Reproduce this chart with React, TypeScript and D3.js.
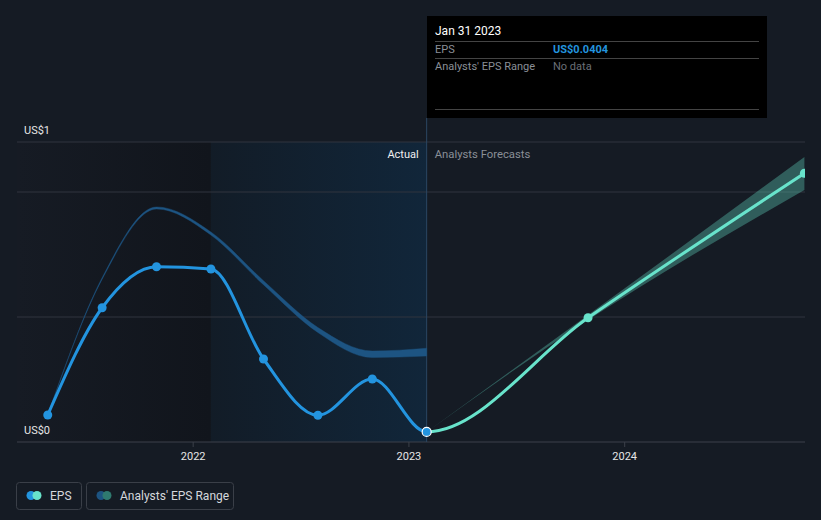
import React from "react";
import * as d3 from "d3";

// ---- data ----
const epsDates = ["2021-04-30", "2021-07-31", "2021-10-31", "2022-01-31", "2022-04-30", "2022-07-31", "2022-10-31", "2023-01-31", "2023-10-31", "2024-10-31"];
const epsValues = [0.108, 0.537, 0.701, 0.692, 0.332, 0.107, 0.252, 0.0404, 0.497, 1.075];
const actualCount = 8;

const pastRangeDates = ["2021-04-30", "2021-07-31", "2021-10-31", "2022-01-31", "2022-04-30", "2022-07-31", "2022-10-31", "2023-01-31"];
const pastRangeLow = [0.108, 0.651, 0.932, 0.828, 0.629, 0.438, 0.338, 0.344];
const pastRangeHigh = [0.108, 0.657, 0.940, 0.840, 0.645, 0.458, 0.364, 0.375];

const fcRangeDates = ["2023-01-31", "2023-10-31", "2024-10-31"];
const fcRangeLow = [0.0404, 0.488, 1.008];
const fcRangeHigh = [0.0404, 0.508, 1.14];

const xTickYears = ["2022", "2023", "2024"];
const yLabels = ["US$0", "US$1"];
const gridValues = [0.5, 1.0, 1.2];

const W = 821, H = 520;
const L = 17, R = 805, T = 142, B = 442;

const parse = d3.timeParse("%Y-%m-%d");

export default function App() {
  const x = d3.scaleTime().domain([parse("2021-03-09")!, parse("2024-11-01")!]).range([L, R]);
  const y = d3.scaleLinear().domain([0, 1.2]).range([B, T]);

  const eps = epsDates.map((d, i) => ({ d: parse(d)!, v: epsValues[i] }));
  const pastRange = pastRangeDates.map((d, i) => ({ d: parse(d)!, lo: pastRangeLow[i], hi: pastRangeHigh[i] }));
  const fcRange = fcRangeDates.map((d, i) => ({ d: parse(d)!, lo: fcRangeLow[i], hi: fcRangeHigh[i] }));

  const lineGen = d3.line<{ d: Date; v: number }>().x(p => x(p.d)).y(p => y(p.v)).curve(d3.curveMonotoneX);
  const areaGen = d3.area<{ d: Date; lo: number; hi: number }>().x(p => x(p.d)).y0(p => y(p.lo)).y1(p => y(p.hi)).curve(d3.curveMonotoneX);

  const nowDate = parse("2023-01-31")!;
  const nowX = x(nowDate);
  const yearAgoX = x(parse("2022-01-31")!);

  const font = "Roboto, 'Noto Sans', sans-serif";
  const blue = "#2394df";
  const teal = "#68e3cb";

  return (
    <svg width={W} height={H} style={{ position: "absolute", left: 0, top: 0, display: "block" }} fontFamily={font}>
      <defs>
        <linearGradient id="leftGrad" x1="0" x2="1" y1="0" y2="0">
          <stop offset="0" stopColor="#161b24" />
          <stop offset="1" stopColor="#11151c" />
        </linearGradient>
        <linearGradient id="blueGrad" x1="0" x2="1" y1="0" y2="0">
          <stop offset="0" stopColor="#121c27" />
          <stop offset="1" stopColor="#11263a" />
        </linearGradient>
        <clipPath id="plotClip">
          <rect x={L} y={0} width={R - L} height={H} />
        </clipPath>
        <clipPath id="pastClip">
          <rect x={0} y={0} width={nowX} height={H} />
        </clipPath>
        <clipPath id="futureClip">
          <rect x={nowX} y={0} width={R - nowX} height={H} />
        </clipPath>
      </defs>
      <rect x={0} y={0} width={W} height={H} fill="#151b24" />

      {/* background regions */}
      <rect x={L} y={T} width={yearAgoX - L} height={B - T} fill="url(#leftGrad)" />
      <rect x={yearAgoX} y={T} width={nowX - yearAgoX} height={B - T} fill="url(#blueGrad)" />

      {/* grid */}
      {gridValues.map(v => (
        <line key={v} x1={L} x2={R} y1={y(v)} y2={y(v)} stroke="#30353e" strokeWidth={1} />
      ))}

      {/* x axis */}
      <line x1={L} x2={R} y1={B} y2={B} stroke="#3c414a" strokeWidth={1} />
      {xTickYears.map(t => {
        const tx = x(parse(`${t}-01-01`)!);
        return (
          <g key={t}>
            <line x1={tx} x2={tx} y1={B} y2={B + 5} stroke="#3c414a" />
            <text x={tx} y={460} textAnchor="middle" fontSize={11} fill="#e6e6e6">{t}</text>
          </g>
        );
      })}

      {/* now line */}
      <line x1={nowX} x2={nowX} y1={118} y2={B} stroke="#2b4763" strokeWidth={1} />

      <g clipPath="url(#plotClip)">
        {/* ranges */}
        <path d={areaGen(pastRange)!} fill="#1d5482" stroke="#1d5482" strokeWidth={0.6} strokeOpacity={0.7} />
        <path d={areaGen(fcRange)!} fill={teal} fillOpacity={0.33} />

        {/* eps line */}
        <path d={lineGen(eps)!} fill="none" stroke={blue} strokeWidth={3} clipPath="url(#pastClip)" />
        <path d={lineGen(eps)!} fill="none" stroke={teal} strokeWidth={3} clipPath="url(#futureClip)" />

        {eps.map((p, i) => {
          if (i === actualCount - 1) return null;
          return <circle key={i} cx={x(p.d)} cy={y(p.v)} r={4.5} fill={i < actualCount ? blue : teal} />;
        })}
        <circle cx={x(eps[actualCount - 1].d)} cy={y(eps[actualCount - 1].v)} r={4.5} fill={blue} stroke="#ffffff" strokeWidth={1.2} />
      </g>

      {/* labels */}
      <text x={24} y={134} fontSize={11} fill="#e6e6e6">{yLabels[1]}</text>
      <text x={24} y={434} fontSize={11} fill="#e6e6e6">{yLabels[0]}</text>
      <text x={nowX - 8} y={158} textAnchor="end" fontSize={11} fill="#f0f0f0">Actual</text>
      <text x={nowX + 8} y={158} fontSize={11.3} fill="#8a8f97">Analysts Forecasts</text>

      {/* tooltip */}
      <rect x={427} y={16} width={340} height={102} fill="#000000" />
      <text x={435} y={35} fontSize={12} fill="#ffffff">Jan 31 2023</text>
      <line x1={435} x2={759} y1={41.5} y2={41.5} stroke="#444" />
      <text x={435} y={53} fontSize={11} fill="#8a8f97">EPS</text>
      <text x={553} y={53} fontSize={11} fill={blue} fontWeight="bold">US$0.0404</text>
      <line x1={435} x2={759} y1={58.5} y2={58.5} stroke="#444" />
      <text x={435} y={70} fontSize={11} fill="#8a8f97">Analysts' EPS Range</text>
      <text x={553} y={70} fontSize={11} fill="#6a6f77">No data</text>
      <line x1={435} x2={759} y1={109.5} y2={109.5} stroke="#444" />

      {/* legend */}
      <rect x={16.5} y={482.5} width={65} height={27} rx={3} fill="none" stroke="#3a3f48" />
      <circle cx={31} cy={495.5} r={4.5} fill={blue} />
      <circle cx={37} cy={495.5} r={4.5} fill={teal} />
      <text x={50} y={500} fontSize={12} fill="#d5d8dc">EPS</text>
      <rect x={86.5} y={482.5} width={147} height={27} rx={3} fill="none" stroke="#3a3f48" />
      <circle cx={101} cy={495.5} r={4.5} fill="#1d5482" />
      <circle cx={107} cy={495.5} r={4.5} fill="#2f7a70" />
      <text x={120} y={500} fontSize={12} fill="#d5d8dc">Analysts' EPS Range</text>
    </svg>
  );
}
